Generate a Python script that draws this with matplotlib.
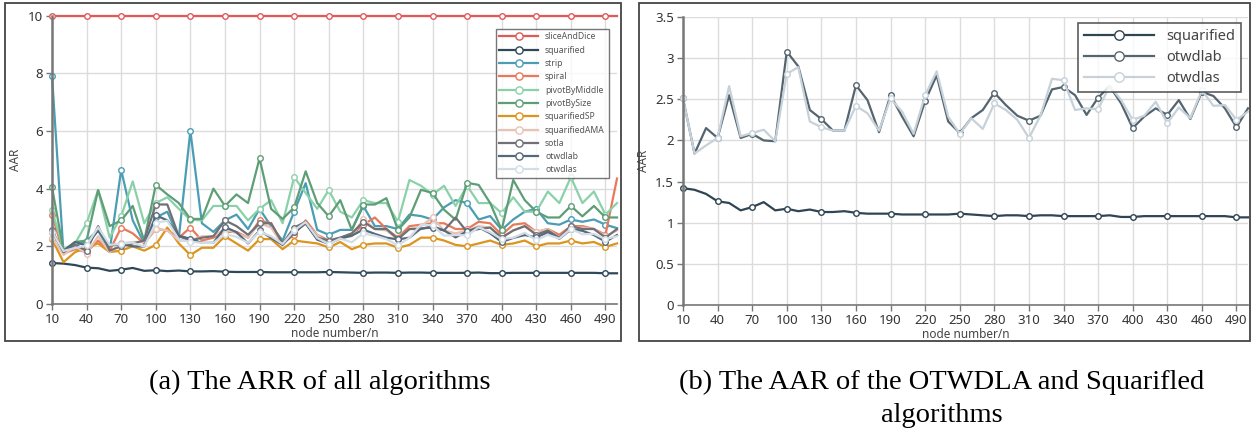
import numpy as np
import matplotlib
matplotlib.use("Agg")
import matplotlib.pyplot as plt
from matplotlib.patches import Rectangle

plt.rcParams.update({
    "font.family": ["Noto Sans", "DejaVu Sans"],
    "font.size": 8,
})

# node numbers 10..500
NODES = list(range(10, 510, 10))

SLICE_AND_DICE = [10.0] * 50
SQUARIFIED = [1.42, 1.40, 1.35, 1.26, 1.24, 1.15, 1.19, 1.25, 1.15, 1.17,
              1.14, 1.16, 1.13, 1.13, 1.14, 1.12, 1.11, 1.11, 1.11, 1.10,
              1.10, 1.10, 1.10, 1.10, 1.11, 1.10, 1.09, 1.08, 1.09, 1.09,
              1.08, 1.09, 1.09, 1.08, 1.08, 1.08, 1.08, 1.09, 1.07, 1.07,
              1.08, 1.08, 1.08, 1.08, 1.08, 1.08, 1.08, 1.08, 1.065, 1.065]
STRIP = [7.9, 1.75, 2.0, 2.2, 2.55, 1.85, 4.65, 2.9, 2.1, 3.0,
         3.2, 2.3, 6.0, 2.8, 2.5, 2.9, 3.1, 2.6, 3.3, 2.7,
         2.2, 3.2, 4.19, 2.57, 2.4, 2.57, 2.57, 3.4, 2.7, 2.7,
         2.6, 3.1, 3.05, 2.93, 3.35, 3.6, 3.5, 2.93, 3.05, 2.57,
         2.93, 3.2, 3.3, 2.8, 2.75, 2.93, 2.85, 2.93, 2.75, 2.63]
SPIRAL = [3.1, 1.75, 1.9, 1.8, 2.2, 1.85, 2.65, 2.45, 2.1, 2.6,
          2.55, 2.3, 2.65, 2.2, 2.3, 2.5, 2.5, 2.3, 2.9, 2.8,
          2.1, 2.4, 2.9, 2.4, 2.2, 2.3, 2.4, 2.75, 3.0, 2.6,
          2.3, 2.7, 2.75, 2.8, 2.8, 2.6, 2.6, 2.85, 2.8, 2.4,
          2.75, 2.8, 2.5, 2.6, 2.4, 2.7, 2.7, 2.6, 2.4, 4.35]
PIVOT_BY_MIDDLE = [3.25, 1.9, 2.1, 2.8, 3.95, 2.3, 3.04, 4.25, 2.8, 3.5,
                   3.7, 3.3, 2.92, 2.9, 3.4, 3.4, 3.4, 2.9, 3.3, 3.6,
                   2.8, 4.4, 3.85, 3.3, 3.95, 3.2, 3.0, 3.6, 3.5, 3.5,
                   2.86, 4.3, 4.1, 3.79, 4.1, 3.4, 4.1, 3.5, 3.5, 3.15,
                   3.7, 3.2, 3.2, 3.9, 3.5, 4.4, 3.5, 3.9, 3.1, 3.5]
PIVOT_BY_SIZE = [4.05, 1.85, 2.15, 2.2, 3.95, 2.7, 2.9, 3.4, 2.2, 4.13,
                 3.8, 3.5, 2.95, 2.95, 4.0, 3.4, 3.8, 3.5, 5.05, 3.3,
                 2.95, 3.35, 4.6, 3.5, 3.04, 3.6, 2.57, 3.45, 3.45, 3.67,
                 2.57, 3.0, 3.96, 3.85, 3.27, 2.92, 4.2, 4.13, 3.5, 2.57,
                 4.3, 3.6, 3.2, 3.0, 3.0, 3.4, 3.04, 3.4, 3.0, 3.0]
SQUARIFIED_SP = [2.25, 1.45, 1.8, 1.95, 2.1, 1.8, 1.85, 2.0, 1.85, 2.05,
                 2.65, 2.1, 1.7, 1.95, 1.95, 2.35, 2.1, 1.85, 2.25, 2.25,
                 1.9, 2.2, 2.15, 2.1, 1.96, 2.15, 1.9, 2.05, 2.1, 2.1,
                 1.95, 2.05, 2.3, 2.3, 2.2, 2.05, 2.0, 2.1, 2.2, 2.05,
                 2.1, 2.2, 2.0, 2.1, 2.1, 2.2, 2.1, 2.15, 1.98, 2.1]
SQUARIFIED_AMA = [2.3, 1.7, 2.0, 1.75, 2.35, 1.8, 2.1, 2.15, 2.15, 2.6,
                  2.55, 2.2, 2.2, 2.35, 2.35, 2.6, 2.45, 2.3, 2.8, 2.65,
                  2.05, 2.6, 2.8, 2.4, 2.1, 2.3, 2.35, 2.95, 2.6, 2.55,
                  2.25, 2.6, 2.7, 3.0, 2.55, 2.45, 2.55, 2.7, 2.65, 2.3,
                  2.55, 2.7, 2.5, 2.6, 2.3, 2.65, 2.65, 2.6, 2.35, 2.55]
SOTLA = [2.55, 1.8, 2.05, 1.85, 2.7, 1.85, 2.0, 2.1, 2.2, 3.45,
         3.45, 2.35, 2.2, 2.3, 2.35, 2.9, 2.7, 2.4, 2.8, 2.8,
         2.1, 2.65, 2.85, 2.3, 2.2, 2.3, 2.45, 2.85, 2.6, 2.6,
         2.25, 2.6, 2.6, 2.7, 2.55, 3.0, 2.5, 2.6, 2.65, 2.3,
         2.55, 2.7, 2.4, 2.55, 2.3, 2.7, 2.6, 2.6, 2.3, 2.6]
OTWDLAB = [2.51, 1.84, 2.15, 2.03, 2.55, 2.03, 2.08, 2.0, 1.99, 3.08,
           2.90, 2.37, 2.26, 2.12, 2.12, 2.67, 2.49, 2.10, 2.55, 2.29,
           2.05, 2.48, 2.79, 2.23, 2.09, 2.27, 2.37, 2.58, 2.43, 2.30,
           2.24, 2.30, 2.62, 2.65, 2.55, 2.31, 2.52, 2.66, 2.45, 2.15,
           2.29, 2.39, 2.31, 2.49, 2.26, 2.59, 2.54, 2.39, 2.16, 2.39]
OTWDLAS = [2.51, 1.84, 1.94, 2.03, 2.66, 2.05, 2.09, 2.13, 1.99, 2.81,
           2.89, 2.23, 2.16, 2.12, 2.12, 2.42, 2.33, 2.12, 2.51, 2.35,
           2.08, 2.55, 2.84, 2.29, 2.08, 2.27, 2.14, 2.45, 2.37, 2.25,
           2.03, 2.30, 2.75, 2.73, 2.37, 2.39, 2.38, 2.66, 2.49, 2.25,
           2.30, 2.47, 2.21, 2.40, 2.27, 2.61, 2.42, 2.43, 2.25, 2.35]

SERIES_A = [
    ("sliceAndDice", SLICE_AND_DICE, "#e05a5a"),
    ("squarified", SQUARIFIED, "#2f4858"),
    ("strip", STRIP, "#4a9db3"),
    ("spiral", SPIRAL, "#e8795a"),
    ("pivotByMiddle", PIVOT_BY_MIDDLE, "#8ad1aa"),
    ("pivotBySize", PIVOT_BY_SIZE, "#5e9e76"),
    ("squarifiedSP", SQUARIFIED_SP, "#db941e"),
    ("squarifiedAMA", SQUARIFIED_AMA, "#e8c2b6"),
    ("sotla", SOTLA, "#707076"),
    ("otwdlab", OTWDLAB, "#56697a"),
    ("otwdlas", OTWDLAS, "#d2dde6"),
]
SERIES_B = [
    ("squarified", SQUARIFIED, "#2f4554"),
    ("otwdlab", OTWDLAB, "#55656f"),
    ("otwdlas", OTWDLAS, "#c6d1da"),
]

XTICKS = list(range(10, 500, 30))


def style_axes(ax, yticks, ytop):
    ax.set_xlim(10, 500)
    ax.set_ylim(0, ytop)
    ax.set_xticks(XTICKS)
    ax.set_yticks(yticks)
    ax.grid(True, color="#dcdcdc", lw=1.0)
    ax.set_axisbelow(True)
    for s in ("top", "right"):
        ax.spines[s].set_visible(False)
    ax.spines["left"].set_color("#777777")
    ax.spines["left"].set_linewidth(1.8)
    ax.spines["bottom"].set_color("#777777")
    ax.spines["bottom"].set_linewidth(1.2)
    ax.tick_params(colors="#777777", labelcolor="#333333", labelsize=9.5,
                   length=4, width=1, pad=2.5)
    ax.set_ylabel("AAR", color="#444444", fontsize=8.5, labelpad=4)
    ax.set_xlabel("node number/n", color="#444444", fontsize=8.5, labelpad=1)


fig = plt.figure(figsize=(12.51, 4.30), dpi=100)

# panel frames
fig.patches.append(Rectangle((5 / 1251, 1 - 341 / 430), 616 / 1251, 338 / 430,
                             transform=fig.transFigure, fill=False,
                             edgecolor="#444444", lw=1.3))
fig.patches.append(Rectangle((639 / 1251, 1 - 341 / 430), 611 / 1251, 338 / 430,
                             transform=fig.transFigure, fill=False,
                             edgecolor="#444444", lw=1.3))

ax1 = fig.add_axes([52 / 1251, 1 - 304 / 430, 565 / 1251, 288.4 / 430])
for name, vals, col in SERIES_A:
    ax1.plot(NODES, vals, color=col, lw=1.6, marker="o", markevery=3, ms=4,
             mfc="white", mec=col, mew=1.0, label=name, clip_on=False)
style_axes(ax1, [0, 2, 4, 6, 8, 10], 10)
leg1 = ax1.legend(loc="upper right", bbox_to_anchor=(0.993, 0.97), fontsize=6.2,
                  frameon=True, fancybox=False, edgecolor="#555555",
                  handlelength=4.5, labelspacing=0.5, borderpad=0.45,
                  markerscale=1.3, labelcolor="#555555")
leg1.get_frame().set_linewidth(1.0)

ax2 = fig.add_axes([683 / 1251, 1 - 305 / 430, 565 / 1251, 288 / 430])
for name, vals, col in SERIES_B:
    ax2.plot(NODES, vals, color=col, lw=1.6, marker="o", markevery=3, ms=4,
             mfc="white", mec=col, mew=1.0, label=name, clip_on=False)
style_axes(ax2, [0, 0.5, 1, 1.5, 2, 2.5, 3, 3.5], 3.5)
ax2.set_yticklabels(["0", "0.5", "1", "1.5", "2", "2.5", "3", "3.5"])
leg2 = ax2.legend(loc="upper right", bbox_to_anchor=(1.0, 1.005), fontsize=10.5,
                  frameon=True, fancybox=False, edgecolor="#333333",
                  handlelength=4.8, labelspacing=0.42, borderpad=0.4,
                  markerscale=1.7, labelcolor="#444444")
leg2.get_frame().set_linewidth(1.2)

cap = dict(family=["Liberation Serif", "DejaVu Serif"], fontsize=20.5,
           ha="center", va="center", color="black")
fig.text(320 / 1251, 1 - 382 / 430, "(a) The ARR of all algorithms", **cap)
fig.text(942 / 1251, 1 - 382 / 430, "(b) The AAR of the OTWDLA and Squarifled", **cap)
fig.text(942 / 1251, 1 - 416 / 430, "algorithms", **cap)

fig.savefig("out.png", dpi=100)
